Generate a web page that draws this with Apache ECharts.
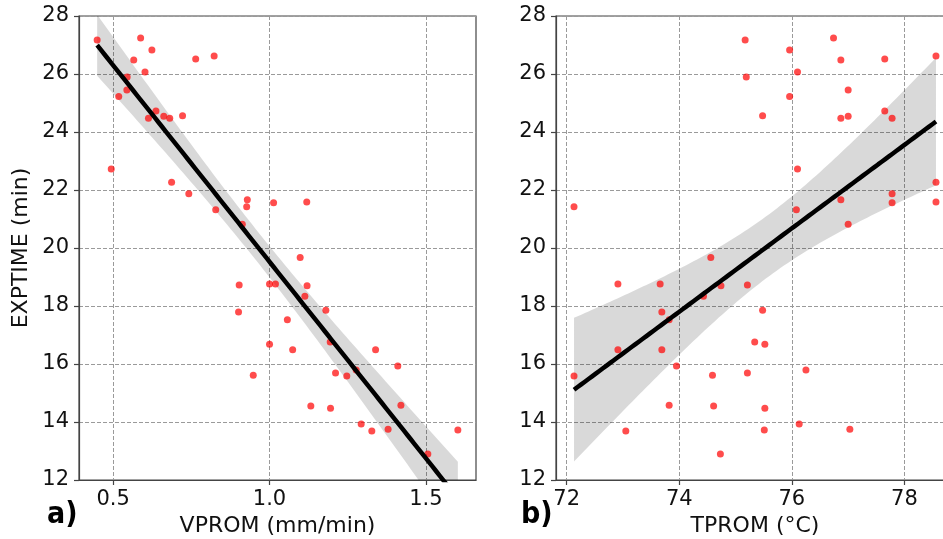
<!DOCTYPE html>
<html>
<head>
<meta charset="utf-8">
<title>EXPTIME vs VPROM / TPROM</title>
<script src="https://cdn.jsdelivr.net/npm/echarts@6/dist/echarts.min.js"></script>
<style>
  html, body { margin: 0; padding: 0; background: #fff; }
  #chart { width: 943px; height: 539px; }
</style>
</head>
<body>
<div id="chart"></div>
<script>
// Observations: exposure time with average speed and average temperature
const exptime = [27.24, 27.17, 26.83, 26.62, 26.52, 26.48, 26.07, 25.90, 25.45, 25.22,
                 24.72, 24.56, 24.54, 24.47, 24.47, 22.72, 22.27, 21.87, 21.66, 21.59,
                 21.56, 21.42, 21.32, 20.82, 19.67, 18.76, 18.76, 18.72, 18.70, 18.34,
                 17.85, 17.79, 17.53, 16.76, 16.68, 16.49, 16.49, 15.93, 15.79, 15.69,
                 15.61, 15.59, 14.58, 14.55, 14.47, 13.93, 13.75, 13.72, 13.69, 12.90];
const vprom = [0.588, 0.449, 0.624, 0.823, 0.764, 0.566, 0.602, 0.545, 0.544, 0.518,
               0.637, 0.722, 0.662, 0.613, 0.681, 0.494, 0.687, 0.742, 0.929, 1.119,
               1.013, 0.927, 0.828, 0.913, 1.098, 1.000, 1.019, 0.903, 1.120, 1.113,
               1.180, 0.901, 1.057, 1.194, 1.000, 1.074, 1.339, 1.410, 1.277, 1.211,
               0.948, 1.247, 1.420, 1.132, 1.195, 1.293, 1.379, 1.602, 1.327, 1.506];
const tprom = [76.74, 75.17, 75.96, 78.56, 77.65, 76.87, 76.10, 75.19, 77.00, 75.96,
               77.65, 75.48, 77.00, 76.87, 77.78, 76.10, 78.56, 77.78, 76.87, 78.56,
               77.78, 72.13, 76.08, 77.00, 74.56, 72.91, 73.66, 75.21, 74.74, 74.43,
               75.48, 73.69, 73.82, 75.34, 75.52, 72.91, 73.69, 73.95, 76.25, 75.21,
               74.59, 72.13, 73.82, 74.61, 75.52, 76.13, 77.03, 75.51, 73.05, 74.73];

// Tick labels
const vTicks = [0.5, 1.0, 1.5];
const tTicks = [72, 74, 76, 78];

// Ordinary least squares fit with a 95% confidence band for the mean
function regression(xs, ys, steps) {
  const n = xs.length;
  const mx = xs.reduce((a, b) => a + b, 0) / n;
  const my = ys.reduce((a, b) => a + b, 0) / n;
  let sxx = 0, sxy = 0;
  for (let i = 0; i < n; i++) {
    sxx += (xs[i] - mx) * (xs[i] - mx);
    sxy += (xs[i] - mx) * (ys[i] - my);
  }
  const b = sxy / sxx;
  const a = my - b * mx;
  let sse = 0;
  for (let i = 0; i < n; i++) {
    const r = ys[i] - (a + b * xs[i]);
    sse += r * r;
  }
  const s = Math.sqrt(sse / (n - 2));
  const z = 1.96;
  const lo = Math.min(...xs), hi = Math.max(...xs);
  const fit = [], band = [];
  for (let k = 0; k <= steps; k++) {
    const x = lo + (hi - lo) * k / steps;
    const yh = a + b * x;
    const h = z * s * Math.sqrt(1 / n + (x - mx) * (x - mx) / sxx);
    fit.push([x, yh]);
    band.push([x, yh - h, yh + h]);
  }
  return { fit, band };
}

const regV = regression(vprom, exptime, 100);
const regT = regression(tprom, exptime, 100);

const FONT = 'DejaVu Sans';
const gridLine = { show: true, lineStyle: { color: '#9a9a9a', type: [4, 2], width: 1 } };
const spine = { show: true, onZero: false, lineStyle: { color: '#444', width: 1.2 } };
const tickStyle = { show: true, length: 5, lineStyle: { color: '#444', width: 1.2 } };

function xAxis(idx, min, max, ticks, digits, name) {
  return {
    gridIndex: idx, type: 'value', min: min, max: max,
    axisLine: spine,
    axisTick: Object.assign({ customValues: ticks }, tickStyle),
    axisLabel: { customValues: ticks, formatter: v => v.toFixed(digits),
                 color: '#111', fontFamily: FONT, fontSize: 21, margin: 9 },
    splitLine: gridLine,
    name: name, nameLocation: 'middle', nameGap: 31,
    nameTextStyle: { color: '#111', fontFamily: FONT, fontSize: 22 }
  };
}
function yAxis(idx, name) {
  return {
    gridIndex: idx, type: 'value', min: 12, max: 28, interval: 2,
    axisLine: spine,
    axisTick: tickStyle,
    axisLabel: { color: '#111', fontFamily: FONT, fontSize: 21, margin: 10,
                 formatter: v => String(v) },
    splitLine: gridLine,
    name: name || '', nameLocation: 'middle', nameGap: 47,
    nameTextStyle: { color: '#111', fontFamily: FONT, fontSize: 22 }
  };
}

// Confidence band drawn as one polygon: upper edge forward, lower edge back
function bandRenderer(band) {
  return function (params, api) {
    if (params.dataIndex !== 0) return null;
    const upper = band.map(p => api.coord([p[0], p[2]]));
    const lower = band.map(p => api.coord([p[0], p[1]])).reverse();
    return {
      type: 'polygon',
      shape: { points: upper.concat(lower) },
      style: { fill: 'rgba(0,0,0,0.15)', stroke: null }
    };
  };
}

function panelSeries(idx, xs, reg) {
  return [
    { type: 'scatter', xAxisIndex: idx, yAxisIndex: idx,
      data: xs.map((x, i) => [x, exptime[i]]),
      symbolSize: 7, itemStyle: { color: 'rgba(255,0,0,0.88)' } },
    { type: 'custom', xAxisIndex: idx, yAxisIndex: idx, clip: true,
      data: reg.band, encode: { x: 0, y: [1, 2] },
      renderItem: bandRenderer(reg.band), silent: true },
    { type: 'line', xAxisIndex: idx, yAxisIndex: idx,
      data: reg.fit, symbol: 'none',
      lineStyle: { color: '#000', width: 4.5 } }
  ];
}

const chart = echarts.init(document.getElementById('chart'), null, { renderer: 'canvas' });
chart.setOption({
  animation: false,
  backgroundColor: '#fff',
  grid: [
    { left: 79, top: 16, width: 397, height: 464, show: true, borderColor: '#444',
      borderWidth: 1.2, backgroundColor: 'transparent', outerBoundsMode: 'none' },
    { left: 556, top: 16, width: 398, height: 464, show: true, borderColor: '#444',
      borderWidth: 1.2, backgroundColor: 'transparent', outerBoundsMode: 'none' }
  ],
  xAxis: [
    xAxis(0, 0.391, 1.660, vTicks, 1, 'VPROM (mm/min)'),
    xAxis(1, 71.81, 78.88, tTicks, 0, 'TPROM (°C)')
  ],
  yAxis: [yAxis(0, 'EXPTIME (min)'), yAxis(1)],
  series: [].concat(panelSeries(0, vprom, regV), panelSeries(1, tprom, regT)),
  graphic: [
    { type: 'text', left: 47, top: 500,
      style: { text: 'a)', fontFamily: 'DejaVu Sans Condensed, Liberation Sans Narrow, DejaVu Sans',
               fontWeight: 'bold', fontSize: 30, fill: '#000' } },
    { type: 'text', left: 521, top: 500,
      style: { text: 'b)', fontFamily: 'DejaVu Sans Condensed, Liberation Sans Narrow, DejaVu Sans',
               fontWeight: 'bold', fontSize: 30, fill: '#000' } }
  ]
});
</script>
</body>
</html>
